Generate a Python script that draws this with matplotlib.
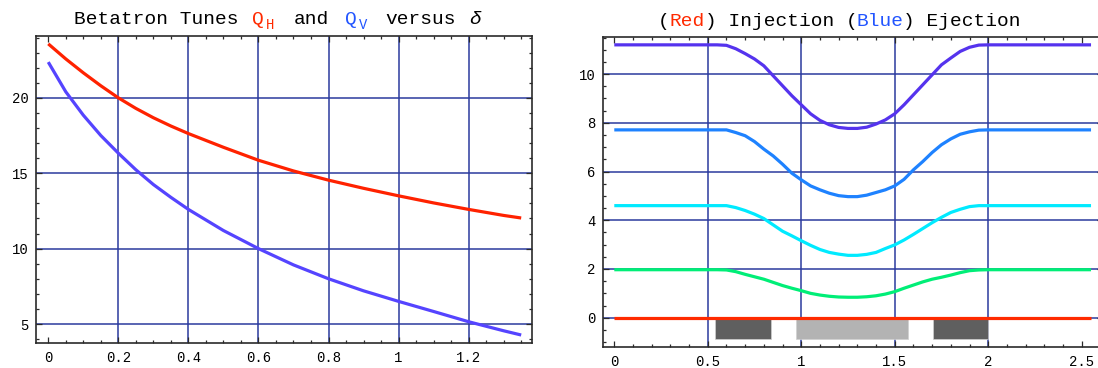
import matplotlib
matplotlib.use("Agg")
import matplotlib.pyplot as plt
from matplotlib.ticker import MultipleLocator, FuncFormatter

# ---------------- data ----------------
# Left panel: betatron tunes versus delta
delta = [0.0, 0.05, 0.1, 0.15, 0.2, 0.25, 0.3, 0.35, 0.4, 0.5, 0.6, 0.7,
         0.8, 0.9, 1.0, 1.1, 1.2, 1.3, 1.35]
q_h = [23.58, 22.58, 21.66, 20.80, 20.0, 19.30, 18.68, 18.13, 17.63, 16.72,
       15.86, 15.15, 14.54, 14.0, 13.5, 13.03, 12.6, 12.2, 12.03]
q_v = [22.37, 20.40, 18.85, 17.50, 16.33, 15.23, 14.25, 13.40, 12.60, 11.20,
       10.0, 8.92, 8.0, 7.2, 6.5, 5.83, 5.15, 4.55, 4.27]

# Right panel: injection / ejection curves
s = [0.0, 0.55, 0.60, 0.65, 0.70, 0.75, 0.80, 0.85, 0.90, 0.95, 1.00, 1.05,
     1.10, 1.15, 1.20, 1.25, 1.30, 1.35, 1.40, 1.45, 1.50, 1.55, 1.60, 1.65,
     1.70, 1.75, 1.80, 1.85, 1.90, 1.95, 2.00, 2.55]
curve_violet = [11.2, 11.2, 11.18, 11.04, 10.84, 10.62, 10.34, 9.93, 9.52, 9.11,
                8.74, 8.37, 8.10, 7.92, 7.81, 7.77, 7.77, 7.82, 7.95, 8.12, 8.37,
                8.74, 9.15, 9.56, 9.97, 10.38, 10.66, 10.93, 11.10, 11.19, 11.2, 11.2]
curve_blue = [7.71, 7.71, 7.71, 7.60, 7.47, 7.23, 6.92, 6.64, 6.30, 5.93, 5.66,
              5.41, 5.25, 5.11, 5.01, 4.97, 4.97, 5.03, 5.14, 5.25, 5.41, 5.68,
              6.07, 6.41, 6.78, 7.10, 7.34, 7.53, 7.63, 7.70, 7.71, 7.71]
curve_cyan = [4.60, 4.60, 4.60, 4.52, 4.40, 4.25, 4.07, 3.81, 3.55, 3.36, 3.16,
              2.97, 2.80, 2.68, 2.61, 2.56, 2.56, 2.60, 2.68, 2.84, 2.99, 3.19,
              3.42, 3.66, 3.90, 4.12, 4.32, 4.45, 4.56, 4.60, 4.60, 4.60]
curve_green = [1.97, 1.97, 1.96, 1.89, 1.78, 1.68, 1.58, 1.45, 1.32, 1.21, 1.11,
               1.00, 0.93, 0.88, 0.85, 0.84, 0.84, 0.86, 0.90, 0.97, 1.07, 1.21,
               1.34, 1.47, 1.58, 1.66, 1.75, 1.85, 1.93, 1.96, 1.97, 1.97]
curve_red_s = [0.0, 2.55]
curve_red = [0.0, 0.0]

# Magnet blocks drawn below the axis
block_left = [0.537, 0.971, 1.704]
block_right = [0.838, 1.569, 2.0]
block_depth = [-0.89, -0.89, -0.89]
block_colors = ["#5f5f5f", "#b3b3b3", "#5f5f5f"]

left_grid_x = [0.2, 0.4, 0.6, 0.8, 1.0, 1.2]
left_grid_y = [5, 10, 15, 20]
right_grid_x = [0.5, 1.0, 1.5, 2.0]
right_grid_y = [0, 2, 4, 6, 8, 10]

# ---------------- figure ----------------
W, H = 1098, 368
fig = plt.figure(figsize=(W / 100, H / 100), dpi=100)

MONO = "Liberation Mono"
GRID = "#2b3a9e"
FRAME = "#2a2a2a"
LW = 2.3

fmt = FuncFormatter(lambda v, p: f"{v:g}")


def style(ax, xmaj, xmin, ymaj, ymin):
    ax.xaxis.set_major_locator(MultipleLocator(xmaj))
    ax.xaxis.set_minor_locator(MultipleLocator(xmin))
    ax.yaxis.set_major_locator(MultipleLocator(ymaj))
    ax.yaxis.set_minor_locator(MultipleLocator(ymin))
    ax.xaxis.set_major_formatter(fmt)
    ax.yaxis.set_major_formatter(fmt)
    ax.tick_params(which="both", direction="in", top=True, right=True,
                   color=FRAME, width=0.9)
    ax.tick_params(which="major", length=4.0)
    ax.tick_params(which="minor", length=2.2)
    ax.tick_params(axis="x", which="major", pad=6.0, labelsize=10)
    ax.tick_params(axis="y", which="major", pad=5.0, labelsize=10)
    for lab in ax.get_xticklabels() + ax.get_yticklabels():
        lab.set_fontfamily(MONO)
    for sp in ax.spines.values():
        sp.set_color(FRAME)
        sp.set_linewidth(1.2)


def px_rect(l, t, r, b):
    return [l / W, 1 - b / H, (r - l) / W, (b - t) / H]


# ---- left panel ----
ax1 = fig.add_axes(px_rect(36, 36, 531.7, 342.7))
for g in left_grid_x:
    ax1.axvline(g, color=GRID, lw=1.1, zorder=1)
for g in left_grid_y:
    ax1.axhline(g, color=GRID, lw=1.1, zorder=1)
ax1.plot(delta, q_h, color="#ff2200", lw=LW, zorder=3, solid_capstyle="butt")
ax1.plot(delta, q_v, color="#5544ff", lw=LW, zorder=3, solid_capstyle="butt")
ax1.set_xlim(-0.035, 1.38)
ax1.set_ylim(3.76, 24.1)
style(ax1, 0.2, 0.05, 5, 1)
ax1.set_xticks([0, 0.2, 0.4, 0.6, 0.8, 1.0, 1.2])

# ---- right panel ----
ax2 = fig.add_axes(px_rect(602.7, 37.3, 1103.0, 346.7))
for g in right_grid_x:
    ax2.axvline(g, color=GRID, lw=1.1, zorder=1)
for g in right_grid_y:
    ax2.axhline(g, color=GRID, lw=1.1, zorder=1)
for l, r, d, c in zip(block_left, block_right, block_depth, block_colors):
    ax2.bar(l, d, width=r - l, bottom=0, align="edge", color=c,
            edgecolor="#d0d0d0", linewidth=0.5, zorder=2)
for ys, col in [(curve_violet, "#5533ee"), (curve_blue, "#1e82ff"),
                (curve_cyan, "#00eaff"), (curve_green, "#00ee77")]:
    ax2.plot(s, ys, color=col, lw=LW, zorder=3, solid_capstyle="butt")
ax2.plot(curve_red_s, curve_red, color="#ff2a00", lw=LW, zorder=4,
         solid_capstyle="butt")
ax2.set_xlim(-0.062, 2.614)
ax2.set_ylim(-1.19, 11.51)
style(ax2, 0.5, 0.1, 2, 0.5)


# ---- titles (multi-coloured text) ----
def put(x_px, base_px, txt, color="black", size=14, style_="normal"):
    fig.text(x_px / W, 1 - base_px / H, txt, color=color, fontsize=size,
             fontfamily=MONO, fontstyle=style_, ha="left", va="baseline")


RED_T = "#ff2a00"
BLUE_T = "#2255ff"
# left title
put(74, 24.5, "Betatron Tunes")
put(252, 24.5, "Q", RED_T)
put(266, 29, "H", RED_T, size=10)
put(294, 24.5, "and")
put(345, 24.5, "Q", BLUE_T)
put(359, 29, "V", BLUE_T, size=10)
put(385.5, 24.5, "versus")
put(469, 24.5, "\u03b4", style_="italic")

# right title
adv = 0.6 * 14 * 100 / 72
x0 = 658
pieces = [("(", "black"), ("Red", RED_T), (") Injection (", "black"),
          ("Blue", BLUE_T), (") Ejection", "black")]
for txt, col in pieces:
    put(x0, 26, txt, col)
    x0 += len(txt) * adv

fig.savefig("out.png", dpi=100)
